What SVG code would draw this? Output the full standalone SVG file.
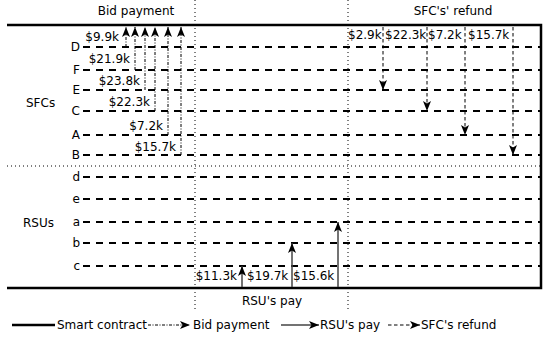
<svg xmlns="http://www.w3.org/2000/svg" width="550" height="338" viewBox="0 0 550 338">
<defs>
<style>
text{font-family:"DejaVu Sans","Liberation Sans",sans-serif;font-size:12px;fill:#000}
.lbl{text-anchor:end}
.row{stroke:#000;stroke-width:2;stroke-dasharray:7,6;fill:none}
.dot{stroke:#000;stroke-width:1;stroke-dasharray:1,3;fill:none}
.frame{stroke:#000;stroke-width:2.5;fill:none}
.bid{stroke:#000;stroke-width:1;stroke-dasharray:3,1.5,1,1.5;fill:none}
.pay{stroke:#444;stroke-width:1.5;fill:none}
.ref{stroke:#000;stroke-width:1;stroke-dasharray:3.5,2.5;fill:none}
</style>
<marker id="ah" viewBox="0 0 10 8" refX="10" refY="4" markerWidth="10" markerHeight="8" markerUnits="userSpaceOnUse" orient="auto">
<path d="M0,0 L10,4 L0,8 L2.5,4 z" fill="#000"/>
</marker>
</defs>

<g id="frame">
<path class="frame" d="M7,25 H541 V288 H7"/>
<line class="dot" x1="7" y1="166" x2="541" y2="166"/>
<line class="dot" x1="195" y1="0" x2="195" y2="312"/>
<line class="dot" x1="348" y1="0" x2="348" y2="312"/>
<text x="136" y="15" text-anchor="middle">Bid payment</text>
<text x="453" y="15" text-anchor="middle">SFC's' refund</text>
<text x="272" y="305" text-anchor="middle">RSU's pay</text>
<text x="26" y="107">SFCs</text>
<text x="23" y="227">RSUs</text>
</g>

<g id="sfc-D"><text class="lbl" x="80" y="51">D</text><line class="row" x1="83" y1="47" x2="541" y2="47"/></g>
<g id="sfc-F"><text class="lbl" x="80" y="74">F</text><line class="row" x1="83" y1="70" x2="541" y2="70"/></g>
<g id="sfc-E"><text class="lbl" x="80" y="94">E</text><line class="row" x1="83" y1="90" x2="541" y2="90"/></g>
<g id="sfc-C"><text class="lbl" x="80" y="115">C</text><line class="row" x1="83" y1="111" x2="541" y2="111"/></g>
<g id="sfc-A"><text class="lbl" x="80" y="139">A</text><line class="row" x1="83" y1="135" x2="541" y2="135"/></g>
<g id="sfc-B"><text class="lbl" x="80" y="159">B</text><line class="row" x1="83" y1="155" x2="541" y2="155"/></g>

<g id="rsu-d"><text class="lbl" x="80" y="181">d</text><line class="row" x1="83" y1="177" x2="541" y2="177"/></g>
<g id="rsu-e"><text class="lbl" x="80" y="203">e</text><line class="row" x1="83" y1="199" x2="541" y2="199"/></g>
<g id="rsu-a"><text class="lbl" x="80" y="226">a</text><line class="row" x1="83" y1="222" x2="541" y2="222"/></g>
<g id="rsu-b"><text class="lbl" x="80" y="247">b</text><line class="row" x1="83" y1="243" x2="541" y2="243"/></g>
<g id="rsu-c"><text class="lbl" x="80" y="270">c</text><line class="row" x1="83" y1="266" x2="541" y2="266"/></g>

<g id="connectors">
<line class="bid" x1="126" y1="47" x2="126" y2="27" marker-end="url(#ah)"/>
<line class="bid" x1="135" y1="70" x2="135" y2="27" marker-end="url(#ah)"/>
<line class="bid" x1="145" y1="90" x2="145" y2="27" marker-end="url(#ah)"/>
<line class="bid" x1="155" y1="111" x2="155" y2="27" marker-end="url(#ah)"/>
<line class="bid" x1="168" y1="135" x2="168" y2="27" marker-end="url(#ah)"/>
<line class="bid" x1="181" y1="155" x2="181" y2="27" marker-end="url(#ah)"/>
<text class="lbl" x="119" y="41">$9.9k</text>
<text class="lbl" x="130" y="63">$21.9k</text>
<text class="lbl" x="140" y="85">$23.8k</text>
<text class="lbl" x="150" y="106">$22.3k</text>
<text class="lbl" x="163" y="130">$7.2k</text>
<text class="lbl" x="176" y="151">$15.7k</text>

<line class="ref" x1="383" y1="27" x2="383" y2="90" marker-end="url(#ah)"/>
<line class="ref" x1="427" y1="27" x2="427" y2="111" marker-end="url(#ah)"/>
<line class="ref" x1="465" y1="27" x2="465" y2="135" marker-end="url(#ah)"/>
<line class="ref" x1="513" y1="27" x2="513" y2="155" marker-end="url(#ah)"/>
<text x="348" y="39">$2.9k</text>
<text x="385" y="39">$22.3k</text>
<text x="428" y="39">$7.2k</text>
<text x="468" y="39">$15.7k</text>

<line class="pay" x1="242" y1="287" x2="242" y2="266" marker-end="url(#ah)"/>
<line class="pay" x1="292" y1="287" x2="292" y2="243" marker-end="url(#ah)"/>
<line class="pay" x1="338" y1="287" x2="338" y2="222" marker-end="url(#ah)"/>
<text class="lbl" x="237" y="280">$11.3k</text>
<text x="247" y="280">$19.7k</text>
<text x="293" y="280">$15.6k</text>
</g>

<g id="legend">
<line x1="12" y1="325" x2="55" y2="325" stroke="#000" stroke-width="2.5"/>
<text x="57" y="329">Smart contract</text>
<line class="bid" x1="148" y1="325" x2="190" y2="325" marker-end="url(#ah)"/>
<text x="193" y="329">Bid payment</text>
<line class="pay" x1="281" y1="325" x2="319" y2="325" marker-end="url(#ah)"/>
<text x="320" y="329">RSU's pay</text>
<line class="ref" x1="388" y1="325" x2="420" y2="325" marker-end="url(#ah)"/>
<text x="421" y="329">SFC's refund</text>
</g>
</svg>
